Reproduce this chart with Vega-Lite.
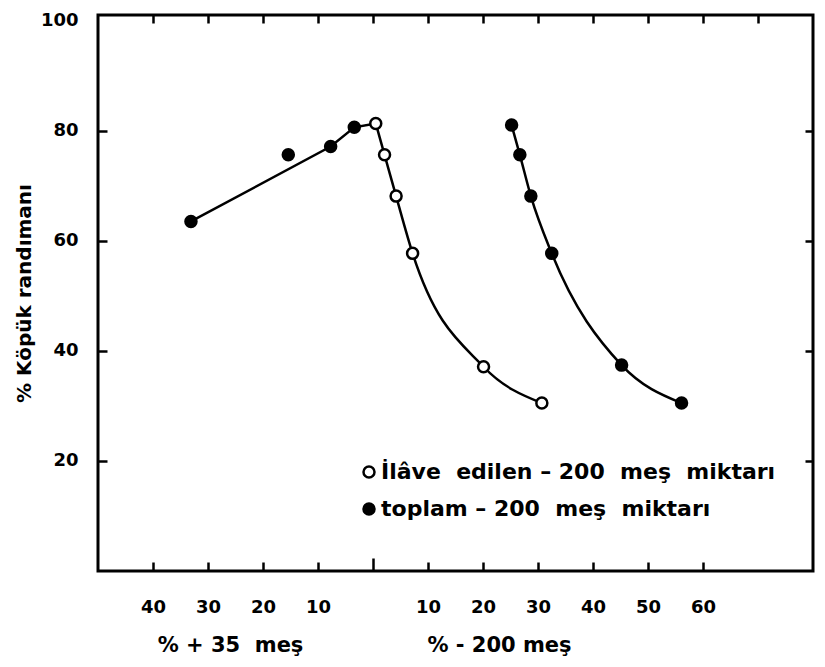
{
  "$schema": "https://vega.github.io/schema/vega-lite/v6.json",
  "width": 715,
  "height": 556,
  "autosize": {"type": "none"},
  "padding": {"left": 98, "top": 15, "right": 12, "bottom": 96},
  "background": "white",
  "config": {
    "view": {"stroke": "black", "strokeWidth": 3},
    "axis": {
      "labelFont": "DejaVu Sans", "labelFontWeight": "bold", "labelFontSize": 18, "labelColor": "black",
      "titleFont": "DejaVu Sans", "titleFontWeight": "bold", "titleFontSize": 20, "titleColor": "black",
      "tickColor": "black", "tickWidth": 2.5, "tickSize": 8, "domain": false, "grid": false
    },
    "legend": {
      "labelFont": "DejaVu Sans", "labelFontWeight": "bold", "labelFontSize": 22, "labelColor": "black",
      "labelLimit": 600, "symbolType": "circle", "symbolSize": 121, "symbolStrokeColor": "black",
      "symbolStrokeWidth": 2.5, "padding": 0
    }
  },
  "datasets": {
    "pts": [
      {"branch": "left", "series": "toplam – 200\u00a0 meş\u00a0 miktarı", "x": -33.1, "y": 63.5, "onLine": true},
      {"branch": "left", "series": "toplam – 200\u00a0 meş\u00a0 miktarı", "x": -15.4, "y": 75.6, "onLine": false},
      {"branch": "left", "series": "toplam – 200\u00a0 meş\u00a0 miktarı", "x": -7.7, "y": 77.1, "onLine": true},
      {"branch": "left", "series": "toplam – 200\u00a0 meş\u00a0 miktarı", "x": -3.4, "y": 80.6, "onLine": true},
      {"branch": "open", "series": "İlâve\u00a0 edilen – 200\u00a0 meş\u00a0 miktarı", "x": 0.5, "y": 81.3, "onLine": true},
      {"branch": "open", "series": "İlâve\u00a0 edilen – 200\u00a0 meş\u00a0 miktarı", "x": 2.1, "y": 75.6, "onLine": true},
      {"branch": "open", "series": "İlâve\u00a0 edilen – 200\u00a0 meş\u00a0 miktarı", "x": 4.2, "y": 68.1, "onLine": true},
      {"branch": "open", "series": "İlâve\u00a0 edilen – 200\u00a0 meş\u00a0 miktarı", "x": 7.2, "y": 57.7, "onLine": true},
      {"branch": "open", "series": "İlâve\u00a0 edilen – 200\u00a0 meş\u00a0 miktarı", "x": 20.1, "y": 37.1, "onLine": true},
      {"branch": "open", "series": "İlâve\u00a0 edilen – 200\u00a0 meş\u00a0 miktarı", "x": 30.7, "y": 30.5, "onLine": true},
      {"branch": "right", "series": "toplam – 200\u00a0 meş\u00a0 miktarı", "x": 25.2, "y": 81.0, "onLine": true},
      {"branch": "right", "series": "toplam – 200\u00a0 meş\u00a0 miktarı", "x": 26.7, "y": 75.6, "onLine": true},
      {"branch": "right", "series": "toplam – 200\u00a0 meş\u00a0 miktarı", "x": 28.7, "y": 68.1, "onLine": true},
      {"branch": "right", "series": "toplam – 200\u00a0 meş\u00a0 miktarı", "x": 32.5, "y": 57.7, "onLine": true},
      {"branch": "right", "series": "toplam – 200\u00a0 meş\u00a0 miktarı", "x": 45.2, "y": 37.4, "onLine": true},
      {"branch": "right", "series": "toplam – 200\u00a0 meş\u00a0 miktarı", "x": 56.1, "y": 30.5, "onLine": true}
    ]
  },
  "data": {"name": "pts"},
  "layer": [
    {
      "transform": [{"filter": "(datum.branch === 'left' && datum.onLine) || (datum.branch === 'open' && datum.x < 1)"}],
      "mark": {"type": "line", "color": "black", "strokeWidth": 2.5},
      "encoding": {
        "x": {"field": "x", "type": "quantitative",
          "scale": {"domain": [-50, 80], "nice": false, "zero": false},
          "axis": {"orient": "bottom", "values": [-40, -30, -20, -10, 10, 20, 30, 40, 50, 60],
            "ticks": false, "tickSize": 0,
            "labelExpr": "datum.value < 0 ? format(-datum.value, 'd') : datum.label",
            "labelPadding": 27, "labelBaseline": "top",
            "title": "% + 35\u00a0 meş", "titleFontSize": 21, "titleX": 132, "titleY": 74, "titleBaseline": "middle", "titleAlign": "center", "titleAngle": 0}},
        "y": {"field": "y", "type": "quantitative",
          "scale": {"domain": [0, 101], "nice": false, "zero": false},
          "axis": {"orient": "left", "values": [20, 40, 60, 80, 100], "ticks": false, "tickSize": 0, "labelPadding": 20,
            "title": "% Köpük randımanı", "titleX": -74, "titleY": 278, "titleBaseline": "middle", "titleAlign": "center", "titleAngle": -90}}
      }
    },
    {
      "transform": [{"filter": "datum.branch === 'open'"}],
      "mark": {"type": "line", "color": "black", "strokeWidth": 2.5, "interpolate": "monotone"},
      "encoding": {
        "x": {"field": "x", "type": "quantitative",
          "scale": {"domain": [-50, 80], "nice": false, "zero": false},
          "axis": {"orient": "bottom", "labels": false, "ticks": false,
            "title": "% - 200 meş", "titleFontSize": 21, "titleX": 401, "titleY": 74, "titleBaseline": "middle", "titleAlign": "center", "titleAngle": 0}},
        "y": {"field": "y", "type": "quantitative",
          "scale": {"domain": [0, 101], "nice": false, "zero": false},
          "axis": {"orient": "right", "offset": -715, "values": [20, 40, 60, 80], "tickSize": 9, "labels": false, "title": null}}
      }
    },
    {
      "transform": [{"filter": "datum.branch === 'right'"}],
      "mark": {"type": "line", "color": "black", "strokeWidth": 2.5, "interpolate": "monotone"},
      "encoding": {
        "x": {"field": "x", "type": "quantitative",
          "scale": {"domain": [-50, 80], "nice": false, "zero": false},
          "axis": {"orient": "top", "offset": -556, "values": [-40, -30, -20, -10, 0, 10, 20, 30, 40, 50, 60],
            "tickSize": {"condition": {"test": "datum.value === 0", "value": 13}, "value": 9},
            "labels": false, "title": null}},
        "y": {"field": "y", "type": "quantitative",
          "scale": {"domain": [0, 101], "nice": false, "zero": false},
          "axis": {"orient": "left", "offset": -715, "values": [20, 40, 60, 80], "labels": false, "title": null}}
      }
    },
    {
      "mark": {"type": "point", "shape": "circle", "size": 121, "stroke": "black", "strokeWidth": 2.5, "opacity": 1, "fillOpacity": 1, "strokeOpacity": 1},
      "encoding": {
        "x": {"field": "x", "type": "quantitative",
          "scale": {"domain": [-50, 80], "nice": false, "zero": false},
          "axis": {"orient": "bottom", "offset": -556, "values": [-40, -30, -20, -10, 0, 10, 20, 30, 40, 50, 60, 70], "labels": false, "title": null}},
        "y": {"field": "y", "type": "quantitative",
          "scale": {"domain": [0, 101], "nice": false, "zero": false}, "axis": null},
        "fill": {"field": "series", "type": "nominal",
          "scale": {"domain": ["İlâve\u00a0 edilen – 200\u00a0 meş\u00a0 miktarı", "toplam – 200\u00a0 meş\u00a0 miktarı"], "range": ["white", "black"]},
          "legend": {"orient": "none", "legendX": 260, "legendY": 446, "title": null, "rowPadding": 15, "labelOffset": 1}}
      }
    }
  ],
  "resolve": {"scale": {"x": "independent", "y": "independent", "fill": "independent"}}
}
